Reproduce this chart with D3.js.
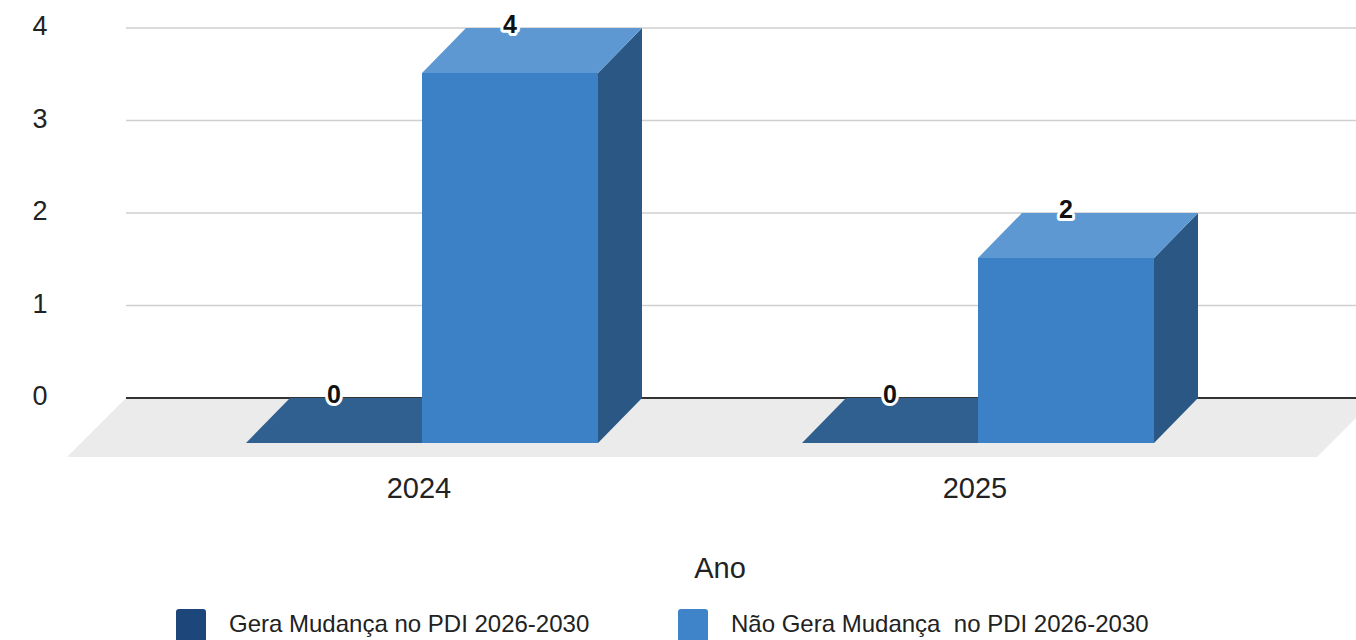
<!DOCTYPE html>
<html><head><meta charset="utf-8">
<script src="https://cdn.jsdelivr.net/npm/d3@7/dist/d3.min.js"></script>
<style>body{margin:0;background:#fff;}svg{display:block;font-family:"Liberation Sans",Arial,sans-serif;}text{white-space:pre;}</style>
</head><body>
<svg id="c" width="1356" height="640"></svg>
<script>
const categories = ["2024", "2025"];
const seriesNames = ["Gera Mudança no PDI 2026-2030", "Não Gera Mudança  no PDI 2026-2030"];
const geraValues = [0, 0];
const naoGeraValues = [4, 2];
const yTicks = [0, 1, 2, 3, 4];
const axisTitle = "Ano";

const svg = d3.select("#c");
const DX = 44, DY = 45; // depth offset
const frontBase = 443;
const y = d3.scaleLinear().domain([0, 4]).range([frontBase, 73]);
const yBack = v => y(v) - DY;
const x = d3.scaleBand().domain(categories).range([144, 1256]).paddingInner(0).paddingOuter(0);
const xs = d3.scaleBand().domain([0, 1]).range([0, 352]);

// floor
svg.append("polygon")
  .attr("points", [[126, yBack(0)], [1376, yBack(0)], [1317, yBack(0) + 59], [67, yBack(0) + 59]].map(p => p.join(",")).join(" "))
  .attr("fill", "#ebebeb");

// gridlines
svg.selectAll("line.grid").data(yTicks.filter(t => t > 0)).enter().append("line")
  .attr("x1", 126).attr("x2", 1356)
  .attr("y1", d => yBack(d)).attr("y2", d => yBack(d))
  .attr("stroke", "#cfcfcf").attr("stroke-width", 1.3);
svg.append("line").attr("x1", 126).attr("x2", 1356).attr("y1", yBack(0)).attr("y2", yBack(0))
  .attr("stroke", "#333").attr("stroke-width", 2);

// y tick labels
svg.selectAll("text.yt").data(yTicks).enter().append("text")
  .attr("x", 40).attr("y", d => yBack(d) - 2).attr("dy", "0.35em")
  .attr("text-anchor", "middle").attr("font-size", 27).attr("fill", "#222").text(d => d);

const colors = [
  {front: "#2e5c8a", top: "#30608f", side: "#24476d", legend: "#1d467a"},
  {front: "#3c80c6", top: "#5e98d2", side: "#2a5784", legend: "#3f84c8"}
];
const data = [];
categories.forEach((c, i) => {
  [geraValues[i], naoGeraValues[i]].forEach((v, s) => data.push({c, s, v}));
});

const g = svg.append("g");
data.forEach(d => {
  const x0 = x(d.c) + x.bandwidth() / 2 - 176 + xs(d.s);
  const x1 = x0 + xs.bandwidth();
  const yt = y(d.v), yb = y(0);
  const col = colors[d.s];
  g.append("path").attr("d", `M${x1},${yt}L${x1 + DX},${yt - DY}L${x1 + DX},${yb - DY}L${x1},${yb}Z`).attr("fill", col.side);
  g.append("path").attr("d", `M${x0},${yt}L${x0 + DX},${yt - DY}L${x1 + DX},${yt - DY}L${x1},${yt}Z`).attr("fill", col.top);
  if (yb - yt > 0) g.append("rect").attr("x", x0).attr("y", yt).attr("width", x1 - x0).attr("height", yb - yt).attr("fill", col.front);
});
// value labels
data.forEach(d => {
  const x0 = x(d.c) + x.bandwidth() / 2 - 176 + xs(d.s);
  const cx = x0 + xs.bandwidth() / 2;
  svg.append("text").attr("x", cx).attr("y", yBack(d.v) + 5)
    .attr("text-anchor", "middle").attr("font-size", 25).attr("font-weight", "bold")
    .attr("stroke", "#fff").attr("stroke-width", 6).attr("stroke-linejoin", "round").attr("fill", "#fff").text(d.v);
  svg.append("text").attr("x", cx).attr("y", yBack(d.v) + 5)
    .attr("text-anchor", "middle").attr("font-size", 25).attr("font-weight", "bold").attr("fill", "#111").text(d.v);
});

// x labels
svg.selectAll("text.xl").data(categories).enter().append("text")
  .attr("x", d => x(d) + x.bandwidth() / 2 - 3).attr("y", 498)
  .attr("text-anchor", "middle").attr("font-size", 29).attr("fill", "#222").text(d => d);
svg.append("text").attr("x", 720).attr("y", 578).attr("text-anchor", "middle").attr("font-size", 29).attr("fill", "#222").text(axisTitle);

// legend
const legX = [176, 678];
seriesNames.forEach((n, i) => {
  svg.append("rect").attr("x", legX[i]).attr("y", 609).attr("width", 30).attr("height", 40).attr("rx", 3).attr("fill", colors[i].legend);
  svg.append("text").attr("x", legX[i] + 53).attr("y", 632).attr("font-size", 24).attr("fill", "#222").text(n);
});
</script>
</body></html>
